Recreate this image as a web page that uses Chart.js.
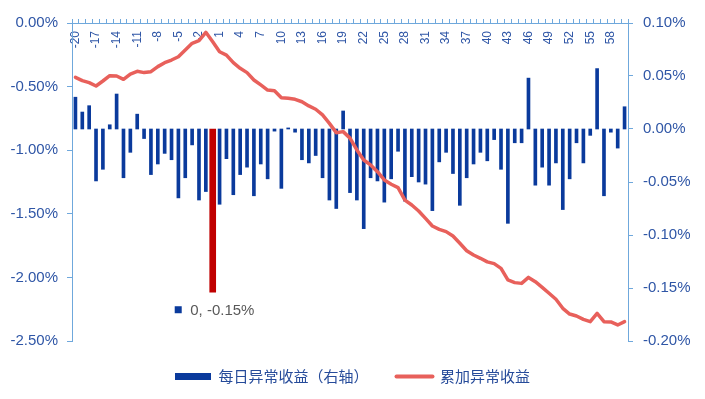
<!DOCTYPE html>
<html>
<head>
<meta charset="utf-8">
<script src="https://cdn.jsdelivr.net/npm/chart.js@4.4.1/dist/chart.umd.min.js"></script>
<style>
html, body { margin: 0; padding: 0; background: #fff; }
</style>
</head>
<body>
<canvas id="chart-area" width="705" height="399"></canvas>
<script>
// dias respecto al evento
var dias = [-20,-19,-18,-17,-16,-15,-14,-13,-12,-11,-10,-9,-8,-7,-6,-5,-4,-3,-2,-1,
	0,1,2,3,4,5,6,7,8,9,10,11,12,13,14,15,16,17,18,19,
	20,21,22,23,24,25,26,27,28,29,30,31,32,33,34,35,36,37,38,39,
	40,41,42,43,44,45,46,47,48,49,50,51,52,53,54,55,56,57,58,59,60];

var etiquetasX = ['-20','-17','-14','-11','-8','-5','-2','1','4','7','10','13','16','19',
	'22','25','28','31','34','37','40','43','46','49','52','55','58'];

// 每日异常收益 (%), eje derecho
var diario = [0.030,0.016,0.022,-0.049,-0.038,0.004,0.033,-0.046,-0.022,0.014,
	-0.009,-0.043,-0.033,-0.023,-0.029,-0.065,-0.046,-0.015,-0.067,-0.059,
	-0.154,-0.071,-0.028,-0.062,-0.043,-0.036,-0.063,-0.033,-0.047,-0.002,
	-0.056,0.001,-0.003,-0.029,-0.032,-0.025,-0.046,-0.067,-0.075,0.017,
	-0.060,-0.067,-0.094,-0.046,-0.049,-0.069,-0.047,-0.021,-0.068,-0.045,
	-0.050,-0.052,-0.077,-0.031,-0.022,-0.042,-0.072,-0.046,-0.033,-0.022,
	-0.030,-0.010,-0.038,-0.089,-0.013,-0.013,0.048,-0.053,-0.036,-0.053,
	-0.032,-0.076,-0.047,-0.013,-0.032,-0.006,0.057,-0.063,-0.003,-0.018,0.021];

// 累加异常收益 (%), eje izquierdo
var acumulado = [-0.427,-0.453,-0.469,-0.495,-0.456,-0.414,-0.417,-0.443,-0.401,-0.380,
	-0.390,-0.383,-0.343,-0.312,-0.291,-0.265,-0.212,-0.160,-0.139,-0.073,
	-0.147,-0.226,-0.252,-0.312,-0.356,-0.390,-0.448,-0.487,-0.527,-0.532,
	-0.587,-0.592,-0.600,-0.619,-0.652,-0.678,-0.723,-0.789,-0.862,-0.854,
	-0.905,-0.998,-1.077,-1.116,-1.169,-1.234,-1.268,-1.294,-1.392,-1.431,
	-1.478,-1.536,-1.596,-1.622,-1.640,-1.675,-1.732,-1.790,-1.824,-1.850,
	-1.878,-1.892,-1.929,-2.020,-2.041,-2.047,-2.000,-2.034,-2.078,-2.125,
	-2.172,-2.243,-2.288,-2.303,-2.330,-2.348,-2.282,-2.348,-2.350,-2.374,-2.348];

var diaEvento = 0;

var AZUL = '#0a3a9c';
var ROJO_BARRA = '#c00000';
var ROJO = '#e8605b';
var EJE = '#6fa8dc';
var TEXTO = '#2f56a6';

var barrasAzules = diario.map(function(v, i){ return dias[i] === diaEvento ? null : v; });
var barraRoja = diario.map(function(v, i){ return dias[i] === diaEvento ? v : null; });

function pct(v){
	if (Math.abs(v) < 1e-9) v = 0;
	return v.toFixed(2) + '%';
}

var etiquetaEvento = {
	id: 'etiquetaEvento',
	afterDatasetsDraw: function(chart){
		var i = dias.indexOf(diaEvento);
		var bar = chart.getDatasetMeta(1).data[i];
		if (!bar) return;
		var ctx = chart.ctx;
		ctx.save();
		ctx.fillStyle = AZUL;
		ctx.fillRect(bar.x - 38, bar.y + 14, 7, 7);
		ctx.fillStyle = '#595959';
		ctx.font = '15px "Liberation Sans", Arial, sans-serif';
		ctx.textBaseline = 'middle';
		ctx.fillText(diaEvento + ', ' + pct(diario[i]), bar.x - 22.5, bar.y + 19);
		ctx.restore();
	}
};

Chart.defaults.font.family = '"Liberation Sans", Arial, "Noto Sans CJK SC", sans-serif';

var config = {
	type: 'bar',
	data: {
		labels: dias,
		datasets: [{
			label: '每日异常收益（右轴）',
			data: barrasAzules,
			backgroundColor: AZUL,
			barThickness: 3,
			grouped: false,
			yAxisID: 'y1',
			order: 1
		}, {
			label: 'evento',
			data: barraRoja,
			backgroundColor: ROJO_BARRA,
			barThickness: 6,
			grouped: false,
			yAxisID: 'y1',
			order: 1
		}, {
			type: 'line',
			label: '累加异常收益',
			data: acumulado,
			borderColor: ROJO,
			backgroundColor: ROJO,
			borderWidth: 3.5,
			pointRadius: 0,
			tension: 0,
			borderJoinStyle: 'round',
			borderCapStyle: 'round',
			yAxisID: 'y',
			order: 0
		}]
	},
	options: {
		responsive: false,
		animation: false,
		events: [],
		layout: { padding: { top: 23, bottom: 5, left: 0, right: 0 } },
		plugins: {
			tooltip: { enabled: false },
			legend: {
				position: 'bottom',
				labels: {
					usePointStyle: true,
					pointStyleWidth: 36,
					boxHeight: 7,
					padding: 28,
					color: '#264b9a',
					font: { size: 15, family: '"Noto Sans CJK SC", "Liberation Sans", sans-serif' },
					generateLabels: function(chart){
						var items = Chart.defaults.plugins.legend.labels.generateLabels(chart);
						items = items.filter(function(it){ return it.datasetIndex !== 1; });
						items.sort(function(a, b){ return a.datasetIndex - b.datasetIndex; });
						items.forEach(function(it){
							if (it.datasetIndex === 0) {
								it.pointStyle = 'rect';
								it.fillStyle = AZUL;
								it.strokeStyle = AZUL;
								it.lineWidth = 0;
							} else {
								it.pointStyle = 'line';
								it.strokeStyle = ROJO;
								it.lineWidth = 4;
								it.lineCap = 'round';
							}
						});
						return items;
					}
				}
			}
		},
		scales: {
			x: {
				type: 'category',
				position: { y: 0 },
				offset: true,
				grid: { drawOnChartArea: false, drawTicks: true, tickLength: -5, color: EJE, offset: true },
				border: { display: true, color: EJE, width: 1 },
				ticks: {
					autoSkip: false,
					minRotation: 90,
					maxRotation: 90,
					padding: 13,
					color: TEXTO,
					font: { size: 12 },
					callback: function(v, i){
						var l = String(dias[i]);
						return etiquetasX.indexOf(l) >= 0 ? l : '';
					}
				},
				afterFit: function(s){ s.height = 0; }
			},
			y: {
				position: 'left',
				min: -2.5,
				max: 0,
				grid: { drawOnChartArea: false, drawTicks: true, tickLength: 5, color: EJE },
				border: { display: true, color: EJE },
				ticks: { stepSize: 0.5, padding: 9, color: TEXTO, font: { size: 15 }, callback: pct },
				afterFit: function(s){ s.width = 72; }
			},
			y1: {
				position: 'right',
				min: -0.2,
				max: 0.1,
				grid: { drawOnChartArea: false, drawTicks: true, tickLength: 5, color: EJE },
				border: { display: true, color: EJE },
				ticks: { stepSize: 0.05, padding: 10, color: TEXTO, font: { size: 15 }, callback: pct },
				afterFit: function(s){ s.width = 77; }
			}
		}
	},
	plugins: [etiquetaEvento]
};

window.onload = function(){
	var ctx = document.getElementById('chart-area').getContext('2d');
	window.grafico = new Chart(ctx, config);
};
</script>
</body>
</html>
